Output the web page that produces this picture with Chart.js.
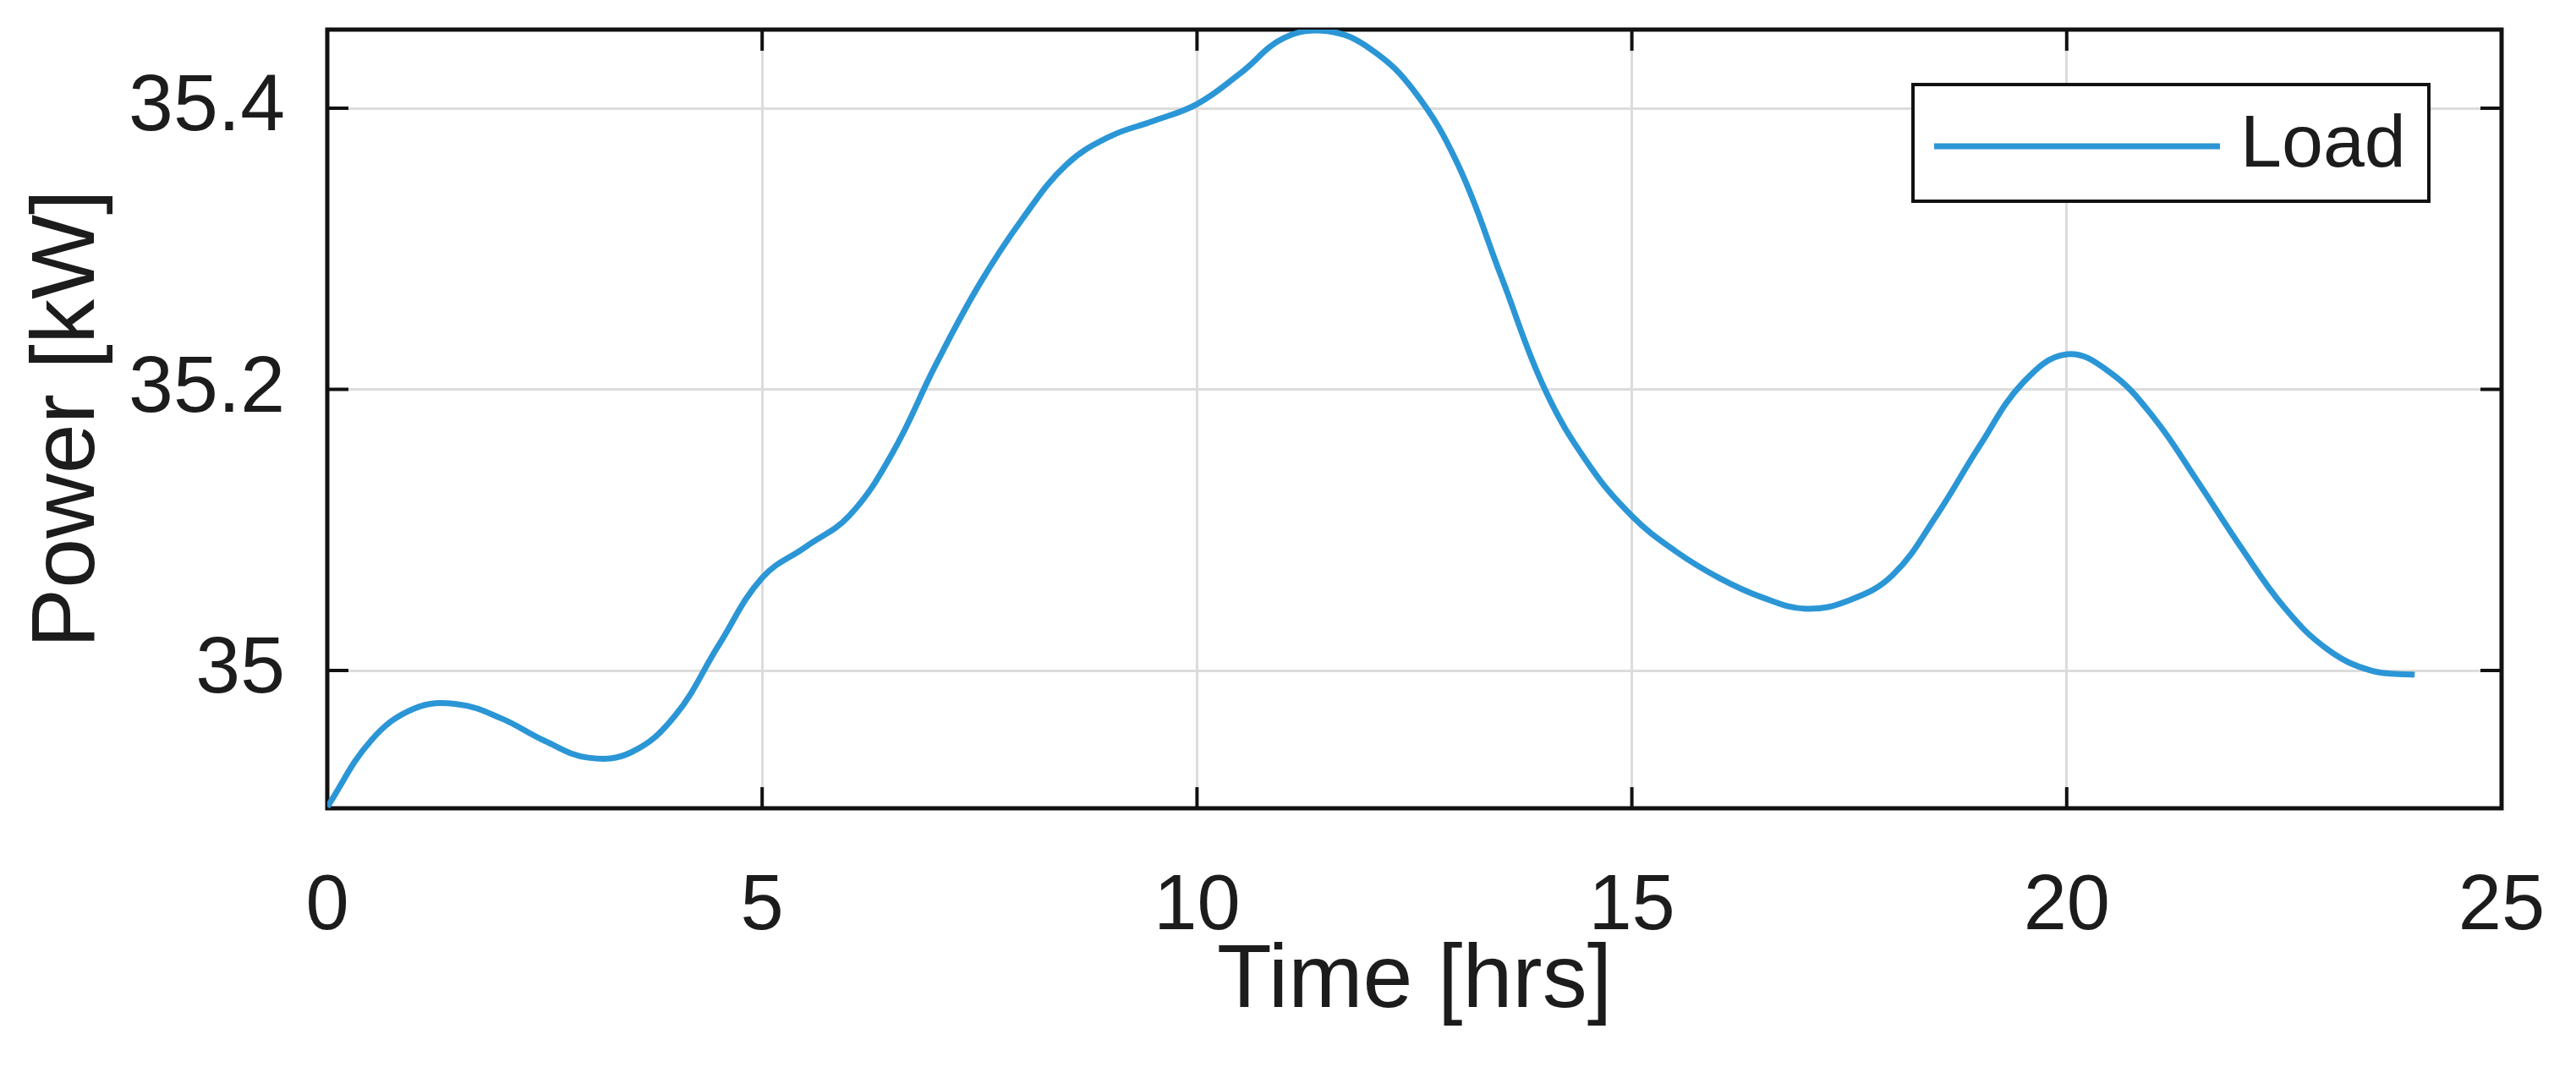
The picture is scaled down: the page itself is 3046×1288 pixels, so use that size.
<!DOCTYPE html>
<html>
<head>
<meta charset="utf-8">
<script src="https://cdn.jsdelivr.net/npm/chart.js@4.4.1/dist/chart.umd.min.js"></script>
<style>
  html, body { margin: 0; padding: 0; background: #ffffff; }
  #wrap { width: 3046px; height: 1288px; }
</style>
</head>
<body>
<div id="wrap"><canvas id="c" width="3046" height="1288"></canvas></div>
<script>
// ---- data ----
const timeHrs = [0, 0.5, 1, 1.5, 2, 2.5, 3, 3.5, 4, 4.5, 5, 5.5, 6, 6.5, 7, 7.5, 8, 8.5, 9, 9.5,
                 10, 10.5, 11, 11.5, 12, 12.5, 13, 13.5, 14, 14.5, 15, 15.5, 16, 16.5, 17, 17.5,
                 18, 18.5, 19, 19.5, 20, 20.5, 21, 21.5, 22, 22.5, 23, 23.5, 24];
const loadKW = [34.903, 34.950, 34.973, 34.976, 34.966, 34.950, 34.938, 34.942, 34.968, 35.018,
                35.066, 35.088, 35.110, 35.155, 35.218, 35.275, 35.322, 35.360, 35.380, 35.391,
                35.403, 35.425, 35.450, 35.455, 35.442, 35.412, 35.360, 35.280, 35.200, 35.147,
                35.110, 35.085, 35.066, 35.052, 35.044, 35.050, 35.068, 35.110, 35.160, 35.205,
                35.225, 35.212, 35.180, 35.135, 35.088, 35.045, 35.015, 35.000, 34.997];
const seriesName = 'Load';
const xTickValues = [0, 5, 10, 15, 20, 25];
const yTickValues = [35, 35.2, 35.4];
const yTickLabels = ['35', '35.2', '35.4'];
const xTitle = 'Time [hrs]';
const yTitle = 'Power [kW]';
const xRange = [0, 25];
const yRange = [34.902, 35.456];

const FONT = "'Liberation Sans', Arial, Helvetica, sans-serif";
const TEXT = '#1c1c1c';

const framePlugin = {
  id: 'matlabFrame',
  beforeDatasetsDraw(chart) {
    const {ctx, chartArea: a, scales: {x, y}} = chart;
    ctx.save();
    ctx.strokeStyle = '#111111';
    ctx.lineWidth = 5;
    ctx.strokeRect(a.left, a.top, a.right - a.left, a.bottom - a.top);
    const tl = 25;
    ctx.lineWidth = 4;
    ctx.beginPath();
    x.ticks.forEach(t => {
      const px = x.getPixelForValue(t.value);
      ctx.moveTo(px, a.bottom); ctx.lineTo(px, a.bottom - tl);
      ctx.moveTo(px, a.top); ctx.lineTo(px, a.top + tl);
    });
    y.ticks.forEach(t => {
      const py = y.getPixelForValue(t.value);
      ctx.moveTo(a.left, py); ctx.lineTo(a.left + tl, py);
      ctx.moveTo(a.right, py); ctx.lineTo(a.right - tl, py);
    });
    ctx.stroke();
    ctx.restore();
  },
  afterDraw(chart) {
    const {ctx, chartArea: a} = chart;
    const ds = chart.data.datasets[0];
    const boxR = a.right - 86, boxT = a.top + 65, boxW = 610, boxH = 138;
    const boxL = boxR - boxW;
    ctx.save();
    ctx.fillStyle = '#ffffff';
    ctx.fillRect(boxL, boxT, boxW, boxH);
    ctx.strokeStyle = '#111111';
    ctx.lineWidth = 4;
    ctx.strokeRect(boxL, boxT, boxW, boxH);
    const cy = boxT + boxH / 2 + 4;
    ctx.strokeStyle = ds.borderColor;
    ctx.lineWidth = ds.borderWidth;
    ctx.beginPath();
    ctx.moveTo(boxL + 25, cy);
    ctx.lineTo(boxL + 363, cy);
    ctx.stroke();
    ctx.fillStyle = TEXT;
    ctx.font = `88px ${FONT}`;
    ctx.textBaseline = 'middle';
    ctx.textAlign = 'left';
    ctx.fillText(ds.label, boxL + 387, cy);
    ctx.restore();
  }
};

new Chart(document.getElementById('c'), {
  type: 'line',
  data: {
    datasets: [{
      label: seriesName,
      data: timeHrs.map((t, i) => ({x: t, y: loadKW[i]})),
      borderColor: '#2b96d6',
      borderWidth: 7,
      pointRadius: 0,
      fill: false,
      tension: 0.4,
      capBezierPoints: true
    }]
  },
  options: {
    responsive: false,
    animation: false,
    devicePixelRatio: 1,
    layout: { padding: { left: 0, top: 35, right: 88, bottom: 0 } },
    plugins: { legend: { display: false }, tooltip: { enabled: false } },
    scales: {
      x: {
        type: 'linear',
        min: xRange[0], max: xRange[1],
        afterBuildTicks: s => { s.ticks = xTickValues.map(v => ({value: v})); },
        afterFit: s => { s.height = 332; s.paddingLeft = 0; s.paddingRight = 0; },
        grid: { color: '#dcdcdc', lineWidth: 3, drawTicks: false },
        border: { display: false },
        ticks: { color: TEXT, font: { family: FONT, size: 92 }, padding: 62, maxRotation: 0,
                 callback: v => String(v) },
        title: { display: true, text: xTitle, color: TEXT, font: { family: FONT, size: 106 },
                 padding: { top: 0, bottom: 63 } }
      },
      y: {
        type: 'linear',
        min: yRange[0], max: yRange[1],
        afterBuildTicks: s => { s.ticks = yTickValues.map(v => ({value: v})); },
        afterFit: s => { s.width = 387; s.paddingTop = 0; s.paddingBottom = 0; },
        grid: { color: '#dcdcdc', lineWidth: 3, drawTicks: false },
        border: { display: false },
        ticks: { color: TEXT, font: { family: FONT, size: 95 }, padding: 50,
                 callback: (v) => { const i = yTickValues.findIndex(t => Math.abs(t - v) < 1e-9); return i >= 0 ? yTickLabels[i] : ''; } },
        title: { display: true, text: yTitle, color: TEXT, font: { family: FONT, size: 106 },
                 padding: { top: 18, bottom: 0 } }
      }
    }
  },
  plugins: [framePlugin]
});
</script>
</body>
</html>
